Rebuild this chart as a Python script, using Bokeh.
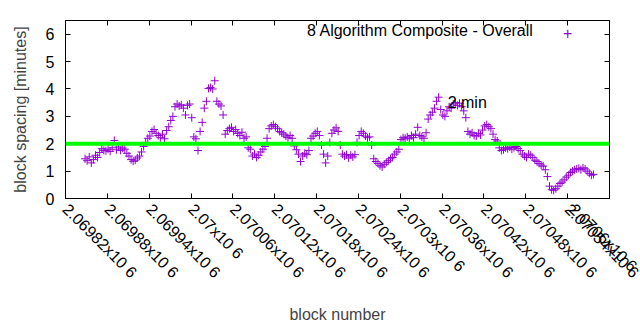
import math
from bokeh.plotting import figure
from bokeh.models import Range1d, FixedTicker, LinearAxis, Label, Span, Legend, LegendItem
from bokeh.embed import file_html
from bokeh.resources import INLINE

# ---------------- data ----------------
series_name = "8 Algorithm Composite - Overall"
reference_label = "2 min"
reference_value = 2.0

block_numbers = [
    2069848, 2069851, 2069854, 2069857, 2069860, 2069863, 2069866, 2069869, 2069872, 2069875,
    2069878, 2069881, 2069884, 2069887, 2069890, 2069893, 2069896, 2069899, 2069902, 2069905,
    2069908, 2069911, 2069914, 2069917, 2069920, 2069923, 2069926, 2069929, 2069932, 2069935,
    2069938, 2069941, 2069944, 2069947, 2069950, 2069953, 2069956, 2069959, 2069962, 2069965,
    2069968, 2069971, 2069974, 2069977, 2069980, 2069983, 2069986, 2069989, 2069992, 2069995,
    2069998, 2070001, 2070004, 2070007, 2070010, 2070013, 2070016, 2070019, 2070022, 2070025,
    2070028, 2070031, 2070034, 2070037, 2070040, 2070043, 2070046, 2070049, 2070052, 2070055,
    2070058, 2070061, 2070064, 2070067, 2070070, 2070073, 2070076, 2070079, 2070082, 2070085,
    2070088, 2070091, 2070094, 2070097, 2070100, 2070103, 2070106, 2070109, 2070112, 2070115,
    2070118, 2070121, 2070124, 2070127, 2070130, 2070133, 2070136, 2070139, 2070142, 2070145,
    2070148, 2070151, 2070154, 2070157, 2070160, 2070163, 2070166, 2070169, 2070172, 2070175,
    2070178, 2070181, 2070184, 2070187, 2070190, 2070193, 2070196, 2070199, 2070202, 2070205,
    2070208, 2070211, 2070214, 2070217, 2070220, 2070223, 2070226, 2070229, 2070232, 2070235,
    2070238, 2070241, 2070244, 2070247, 2070250, 2070253, 2070256, 2070259, 2070262, 2070265,
    2070268, 2070271, 2070274, 2070277, 2070280, 2070283, 2070286, 2070289, 2070292, 2070295,
    2070298, 2070301, 2070304, 2070307, 2070310, 2070313, 2070316, 2070319, 2070322, 2070325,
    2070328, 2070331, 2070334, 2070337, 2070340, 2070343, 2070346, 2070349, 2070352, 2070355,
    2070358, 2070361, 2070364, 2070367, 2070370, 2070373, 2070376, 2070379, 2070382, 2070385,
    2070388, 2070391, 2070394, 2070397, 2070400, 2070403, 2070406, 2070409, 2070412, 2070415,
    2070418, 2070421, 2070424, 2070427, 2070430, 2070433, 2070436, 2070439, 2070442, 2070445,
    2070448, 2070451, 2070454, 2070457, 2070460, 2070463, 2070466, 2070469, 2070472, 2070475,
    2070478, 2070481, 2070484, 2070487, 2070490, 2070493, 2070496, 2070499, 2070502, 2070505,
    2070508, 2070511, 2070514, 2070517, 2070520, 2070523, 2070526, 2070529, 2070532, 2070535,
    2070538, 2070541, 2070544, 2070547, 2070550, 2070553, 2070556, 2070559, 2070562, 2070565,
    2070568, 2070571, 2070574, 2070577,
]

spacing_minutes = [
    1.45, 1.38, 1.52, 1.30, 1.42, 1.58, 1.50, 1.68, 1.82, 1.76,
    1.74, 1.80, 1.72, 1.85, 2.12, 1.78, 1.88, 1.76, 1.84, 1.80,
    1.65, 1.55, 1.42, 1.36, 1.40, 1.48, 1.55, 1.70, 1.90, 2.05,
    2.20, 2.28, 2.45, 2.52, 2.38, 2.30, 2.22, 2.35, 2.18, 2.48,
    2.62, 2.85, 3.00, 3.35, 3.45, 3.38, 3.42, 3.30, 3.05, 3.40,
    3.45, 2.95, 2.25, 2.18, 1.75, 2.45, 2.78, 3.30, 3.55, 4.02,
    4.05, 4.00, 4.30, 3.55, 3.45, 3.38, 3.05, 2.35, 2.48, 2.55,
    2.60, 2.45, 2.52, 2.38, 2.30, 2.42, 2.20, 2.25, 1.85, 1.80,
    1.55, 1.62, 1.50, 1.58, 1.70, 1.80, 1.90, 2.20, 2.55, 2.65,
    2.70, 2.62, 2.55, 2.45, 2.40, 2.35, 2.28, 2.22, 2.30, 2.20,
    1.92, 1.78, 1.62, 1.35, 1.55, 1.65, 1.60, 1.75, 2.20, 2.28,
    2.38, 2.45, 2.30, 1.95, 1.62, 1.30, 1.55, 2.05, 2.38, 2.50,
    2.58, 2.45, 1.95, 1.62, 1.55, 1.60, 1.48, 1.58, 1.52, 1.60,
    2.05, 2.30, 2.45, 2.38, 2.28, 2.22, 2.25, 1.95, 1.45, 1.35,
    1.28, 1.20, 1.15, 1.25, 1.32, 1.38, 1.45, 1.50, 1.62, 1.70,
    1.80, 2.15, 2.22, 2.20, 2.25, 2.18, 2.30, 2.22, 2.35, 2.60,
    2.30, 2.25, 2.20, 2.40, 2.90, 3.05, 3.15, 3.30, 3.55, 3.70,
    3.25, 3.05, 3.00, 3.20, 3.35, 3.30, 3.45, 3.50, 3.40, 3.48,
    3.35, 3.20, 2.95, 2.45, 2.35, 2.40, 2.30, 2.28, 2.38, 2.32,
    2.50, 2.65, 2.70, 2.62, 2.55, 2.35, 2.15, 2.10, 1.85, 1.75,
    1.78, 1.85, 1.82, 1.88, 1.80, 1.86, 1.90, 1.82, 1.75, 1.62,
    1.55, 1.50, 1.62, 1.58, 1.50, 1.40, 1.35, 1.28, 1.22, 1.18,
    1.05, 0.80, 0.45, 0.32, 0.30, 0.36, 0.45, 0.55, 0.60, 0.68,
    0.78, 0.85, 0.95, 1.00, 1.05, 1.08, 1.10, 1.05, 1.12, 1.08,
    1.00, 0.92, 0.85, 0.88,
]

x_ticks = [2069820, 2069880, 2069940, 2070000, 2070060, 2070120, 2070180,
           2070240, 2070300, 2070360, 2070420, 2070480, 2070540, 2070600]
x_tick_labels = ["2.06982x10 6", "2.06988x10 6", "2.06994x10 6", "2.07x10 6",
                 "2.07006x10 6", "2.07012x10 6", "2.07018x10 6", "2.07024x10 6",
                 "2.0703x10 6", "2.07036x10 6", "2.07042x10 6", "2.07048x10 6",
                 "2.07054x10 6", "2.0706x10 6"]
y_ticks = [0, 1, 2, 3, 4, 5, 6]

X_MIN, X_MAX = 2069820, 2070600
Y_MIN, Y_MAX = 0, 6.5

# annotation anchors
label_block, label_value = 2070368, 3.5
legend_block, legend_value = 2070540, 6.04

FONT = "Liberation Sans"
FS = "16px"
PURPLE = "#9400d3"

p = figure(width=640, height=330, output_backend="svg", toolbar_location=None,
           x_range=Range1d(X_MIN, X_MAX), y_range=Range1d(Y_MIN, Y_MAX),
           min_border_left=65, min_border_right=31, min_border_top=20,
           min_border_bottom=132)
p.background_fill_color = "white"
p.border_fill_color = "white"
p.outline_line_color = "black"
p.outline_line_width = 1
p.outline_line_alpha = 1
p.xgrid.visible = False
p.ygrid.visible = False

def style_axis(ax, ticks, show_labels):
    ax.ticker = FixedTicker(ticks=ticks)
    ax.major_tick_in = 5
    ax.major_tick_out = 0
    ax.minor_tick_in = 0
    ax.minor_tick_out = 0
    ax.major_tick_line_color = "black"
    ax.axis_line_color = "black"
    ax.major_label_text_font = FONT
    ax.major_label_text_color = "black"
    ax.axis_label_text_font = FONT
    ax.axis_label_text_font_size = FS
    ax.axis_label_text_font_style = "normal"
    if show_labels:
        ax.major_label_text_font_size = FS
    else:
        # mirrored axis: ticks only
        ax.major_label_overrides = {t: "" for t in ticks}
        ax.major_label_text_font_size = "0px"
        ax.major_label_standoff = 0

xa = p.xaxis[0]
style_axis(xa, x_ticks, True)
xa.major_label_overrides = dict(zip(x_ticks, x_tick_labels))
xa.major_label_orientation = -math.pi / 4
xa.major_label_standoff = 8
xa.axis_label = "block number"
xa.axis_label_standoff = 16

ya = p.yaxis[0]
style_axis(ya, y_ticks, True)
ya.major_label_standoff = 11
ya.axis_label = "block spacing [minutes]"
ya.axis_label_standoff = 14

top = LinearAxis()
style_axis(top, x_ticks, False)
p.add_layout(top, "above")
right = LinearAxis()
style_axis(right, y_ticks, False)
p.add_layout(right, "right")

p.add_layout(Span(location=reference_value, dimension="width",
                  line_color="#00ff00", line_width=4))

pts = p.scatter(block_numbers, spacing_minutes, marker="cross", size=8,
                line_color=PURPLE, line_width=1)

legend = Legend(items=[LegendItem(label=series_name, renderers=[pts])],
                location=(242, 158), glyph_width=0, glyph_height=16,
                label_standoff=0, padding=0, margin=0, spacing=0,
                border_line_color=None, background_fill_alpha=0,
                label_text_font=FONT, label_text_font_size=FS,
                label_text_color="black", label_height=16)
p.add_layout(legend, "center")

p.add_layout(Label(x=legend_block, y=legend_value, text="+", text_align="center",
                   text_baseline="middle", text_font=FONT, text_font_size=FS,
                   text_color=PURPLE))

p.add_layout(Label(x=label_block, y=label_value, text=reference_label,
                   text_baseline="middle", text_font=FONT, text_font_size=FS,
                   text_color="black"))

open("out.html", "w").write(file_html(p, INLINE))
